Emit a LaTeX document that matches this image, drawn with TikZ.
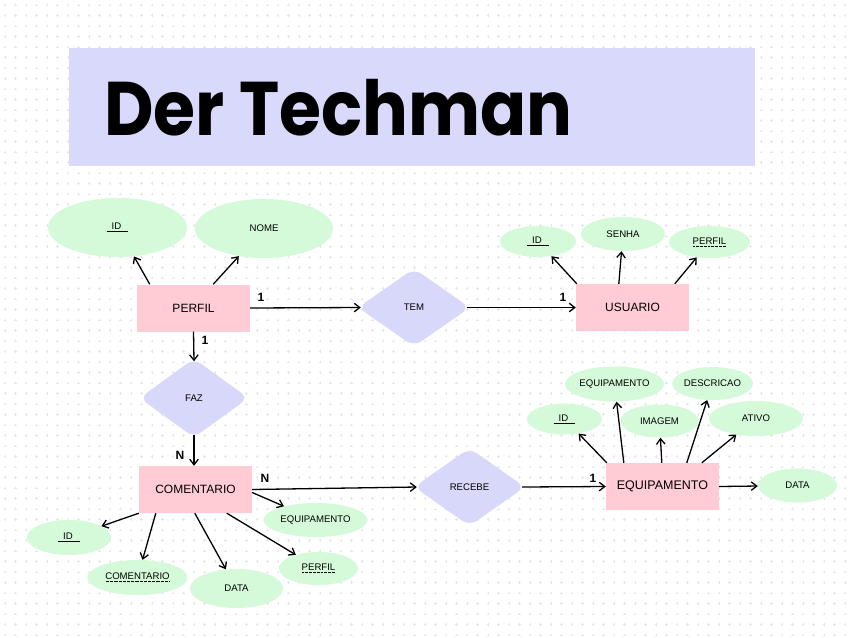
\documentclass[tikz,border=0pt]{standalone}
\usepackage{fontspec}
\usepackage{graphicx}
\setmainfont{Liberation Sans}
\newfontfamily\poppins{Poppins}
\usetikzlibrary{shapes.geometric,arrows.meta}
\definecolor{titlec}{HTML}{D9D9FB}
\definecolor{entc}{HTML}{FFCCD5}
\definecolor{attrc}{HTML}{D4FAD9}
\definecolor{relc}{HTML}{D8D8FA}
\definecolor{gridc}{HTML}{E6E6E6}
\newcommand\dotu[1]{\setbox0\hbox{#1}\rlap{\raisebox{-2.5pt}{\hbox to \wd0{\xleaders\hbox to 1.3pt{\hss\rule{0.7pt}{0.7pt}\hss}\hfill}}}\box0}
\newcommand\keyu[1]{\underline{\hspace{5pt}#1\hspace{7pt}}}
\tikzset{
  ent/.style={rectangle, fill=entc, minimum width=113pt, minimum height=47pt, inner sep=0pt, font=\fontsize{12}{14}\selectfont},
  attr/.style={ellipse, fill=attrc, inner sep=0pt, font=\fontsize{9.6}{11}\selectfont},
  rel/.style={diamond, fill=relc, rounded corners=9pt, inner sep=0pt, font=\fontsize{9.6}{11}\selectfont},
  arr/.style={-{Straight Barb[length=5.5pt,width=8.5pt,line width=1.3pt]}, line width=1.3pt, black},
  card/.style={font=\bfseries\fontsize{12}{14}\selectfont, inner sep=0pt}
}
\begin{document}
\begin{tikzpicture}[x=1pt,y=-1pt]
\useasboundingbox (0,0) rectangle (850,637);
\fill[white] (0,0) rectangle (850,637);
% background grid of small pluses
\draw[gridc, line width=0.5pt]
  \foreach \i in {0,...,80}{\foreach \j in {0,...,60}{
    ({5+10.5*\i-1.3},{5+10.5*\j}) -- ++(2.6,0)
    ({5+10.5*\i},{5+10.5*\j-1.3}) -- ++(0,2.6)}};
% title
\node[rectangle, fill=titlec, minimum width=686pt, minimum height=118pt, inner sep=0pt] (title) at (412,107) {};
\node[anchor=base west, inner sep=0pt, font=\poppins\bfseries\fontsize{76}{80}\selectfont] (titletext) at (104,135) {\scalebox{0.895}[1]{Der Techman}};

% PERFIL
\node[ent] (perfil) at (193.5,308) {PERFIL};
\node[attr, minimum width=139pt, minimum height=59pt] (pid) at (117.5,227.5) {\keyu{ID}};
\node[attr, minimum width=138pt, minimum height=59pt] (pnome) at (264,228.5) {NOME};
\draw[arr] ([xshift=13pt]perfil.north west) -- (pid);
\draw[arr] ([xshift=-37pt]perfil.north east) -- (pnome);

% TEM
\node[rel, minimum width=112pt, minimum height=78pt] (tem) at (414,307.5) {TEM};
\node[ent] (usuario) at (632.5,307.5) {USUARIO};
\draw[arr] (perfil.east) -- ([xshift=3pt]tem.west);
\draw[arr] ([xshift=-3pt]tem.east) -- (usuario.west);
\node[card] (c1) at (261,297) {1};
\node[card] (c2) at (563,297) {1};

% USUARIO attributes
\node[attr, minimum width=76pt, minimum height=31pt] (uid) at (538,241.5) {\keyu{ID}};
\node[attr, minimum width=84pt, minimum height=34pt] (usenha) at (623,234) {SENHA};
\node[attr, minimum width=81pt, minimum height=32pt] (uperfil) at (709.5,242) {\dotu{PERFIL}};
\draw[arr] ([xshift=1pt]usuario.north west) -- (uid);
\draw[arr] ([xshift=43pt]usuario.north west) -- (usenha);
\draw[arr] ([xshift=99pt]usuario.north west) -- (uperfil);

% FAZ
\node[rel, minimum width=109pt, minimum height=79pt] (faz) at (194,398) {FAZ};
\node[ent] (coment) at (195.5,489.5) {COMENTARIO};
\draw[arr] (perfil.south) -- ([yshift=-3pt]faz.north);
\draw[arr] ([yshift=3pt]faz.south) -- (faz.south |- coment.north);
\node[card] (c3) at (205,340) {1};
\node[card] (c4) at (180,455) {N};

% RECEBE
\node[rel, minimum width=111pt, minimum height=78pt] (recebe) at (469.5,487) {RECEBE};
\node[ent, font=\fontsize{12.5}{14}\selectfont] (equip) at (662.5,486.5) {EQUIPAMENTO};
\draw[arr] (coment.east) -- ([xshift=3pt]recebe.west);
\draw[arr] ([xshift=-3pt]recebe.east) -- (equip.west);
\node[card] (c5) at (265,478) {N};
\node[card] (c6) at (593,478) {1};

% EQUIPAMENTO attributes
\node[attr, minimum width=75pt, minimum height=31pt] (eid) at (564.5,419) {\keyu{ID}};
\node[attr, minimum width=95pt, minimum height=35pt] (eequip) at (614.5,384) {EQUIPAMENTO};
\node[attr, minimum width=78pt, minimum height=33pt] (eimg) at (659.5,421) {IMAGEM};
\node[attr, minimum width=76pt, minimum height=33pt] (edesc) at (712.5,383.5) {DESCRICAO};
\node[attr, minimum width=94pt, minimum height=35pt] (eativo) at (756,418.5) {ATIVO};
\node[attr, minimum width=79pt, minimum height=34pt] (edata) at (797.5,485.5) {DATA};
\draw[arr] ([xshift=1pt]equip.north west) -- (eid);
\draw[arr] ([xshift=18pt]equip.north west) -- (eequip);
\draw[arr] ([xshift=56pt]equip.north west) -- (eimg);
\draw[arr] ([xshift=81pt]equip.north west) -- (edesc);
\draw[arr] ([xshift=96pt]equip.north west) -- (eativo);
\draw[arr] (equip.east) -- (edata);

% COMENTARIO attributes
\node[attr, minimum width=84pt, minimum height=35pt] (cid) at (69,537.5) {\keyu{ID}};
\node[attr, minimum width=100pt, minimum height=35pt] (ccom) at (137.5,577.5) {\dotu{COMENTARIO}};
\node[attr, minimum width=93pt, minimum height=39pt] (cdata) at (236.5,588.5) {DATA};
\node[attr, minimum width=104pt, minimum height=34pt] (cequip) at (315.5,520) {EQUIPAMENTO};
\node[attr, minimum width=79pt, minimum height=33pt] (cperfil) at (318.5,568.5) {\dotu{PERFIL}};
\draw[arr] (coment.south west) -- (cid);
\draw[arr] ([xshift=17pt]coment.south west) -- (ccom);
\draw[arr] ([xshift=56pt]coment.south west) -- (cdata);
\draw[arr] ([xshift=88pt]coment.south west) -- (cperfil);
\draw[arr] ([yshift=-3pt]coment.east) -- (cequip);
\end{tikzpicture}
\end{document}
